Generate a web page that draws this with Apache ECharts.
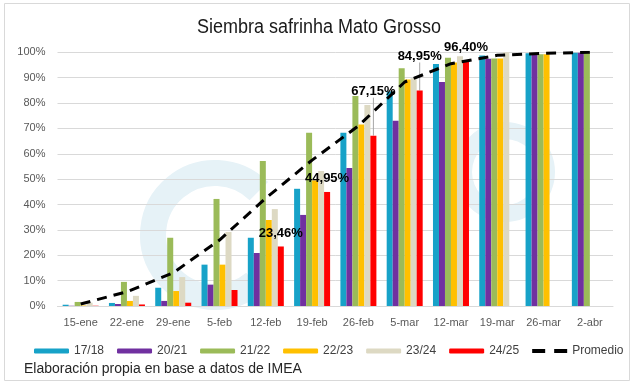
<!DOCTYPE html>
<html>
<head>
<meta charset="utf-8">
<script src="https://cdn.jsdelivr.net/npm/echarts@6/dist/echarts.min.js"></script>
<style>html,body{margin:0;padding:0;background:#fff}#c{width:638px;height:386px}</style>
</head>
<body>
<div id="c"></div>
<script>
const categories = ['15-ene','22-ene','29-ene','5-feb','12-feb','19-feb','26-feb','5-mar','12-mar','19-mar','26-mar','2-abr'];
const s1718 = [0.5, 1.2, 7.2, 16.3, 26.9, 46.2, 68.3, 84.5, 95.4, 98.7, 99.6, 99.8];
const s2021 = [0.1, 0.8, 2.0, 8.4, 20.9, 35.9, 54.4, 73.0, 88.3, 97.5, 99.2, 99.8];
const s2122 = [1.6, 9.5, 26.9, 42.2, 57.2, 68.3, 82.8, 93.7, 97.9, 97.6, 99.2, 99.8];
const s2223 = [0.2, 2.0, 5.9, 16.3, 33.9, 49.5, 71.5, 89.3, 96.0, 97.6, 99.2, null];
const s2324 = [1.3, 4.0, 11.4, 29.2, 38.2, 53.2, 79.2, 89.8, 98.4, 100, null, null];
const s2425 = [0.1, 0.6, 1.3, 6.3, 23.46, 44.95, 67.15, 84.95, 96.40, null, null, null];
const promedio = [0.8, 5.6, 13.1, 26.0, 42.5, 57.5, 71.0, 88.3, 95.5, 98.8, 99.6, 100];
const labeledIdx = [4, 5, 6, 7, 8];
const yTicks = [0,10,20,30,40,50,60,70,80,90,100];

const labelDy = {4: -2, 5: -2, 6: -33, 7: -23, 8: -3};
const leaderIdx = [6, 7];

const chart = echarts.init(document.getElementById('c'));
const font = 'Liberation Sans, Arial, sans-serif';
const barW = 6;
function barSeries(name, data, color) {
  return {name, type: 'bar', data, barWidth: barW, barGap: '0%', itemStyle: {color}, z: 3};
}
const redData = s2425.map((v, i) => labeledIdx.includes(i)
  ? {value: v, label: {show: true}, labelLine: {show: leaderIdx.includes(i)}}
  : v);

chart.setOption({
  animation: false,
  textStyle: {fontFamily: font},
  grid: {left: 57.5, right: 25, top: 52.3, bottom: 80, containLabel: false},
  legend: {
    left: 29, top: 340, itemWidth: 35, itemHeight: 5, itemGap: 13,
    textStyle: {fontSize: 12, color: '#404040', fontFamily: font},
    data: ['17/18','20/21','21/22','22/23','23/24','24/25',
      {name: 'Promedio', icon: 'path://M0,0h13v4h-13zM22,0h13v4h-13z'}]
  },
  xAxis: {
    type: 'category', data: categories,
    axisLine: {lineStyle: {color: '#d9d9d9'}},
    axisTick: {show: false},
    axisLabel: {color: '#595959', fontSize: 11, margin: 11, fontFamily: font}
  },
  yAxis: {
    type: 'value', min: 0, max: 100, interval: 10,
    axisLabel: {formatter: v => yTicks.includes(v) ? v + '%' : '', color: '#595959', fontSize: 11, margin: 12, fontFamily: font},
    splitLine: {lineStyle: {color: '#d9d9d9'}},
    axisLine: {show: false}, axisTick: {show: false}
  },
  graphic: [
    {type: 'rect', shape: {x: 4.5, y: 3.5, width: 625, height: 377}, style: {fill: 'none', stroke: '#d9d9d9', lineWidth: 1}, z: -10},
    {type: 'ring', shape: {cx: 505, cy: 172, r: 50, r0: 33}, style: {fill: '#e6f2f7'}, z: -5},
    {type: 'arc', shape: {cx: 215, cy: 235, r: 62, startAngle: Math.PI * 0.28, endAngle: Math.PI * 1.75}, style: {stroke: '#e6f2f7', lineWidth: 26, fill: 'none'}, z: -5},
    {type: 'text', x: 319, y: 27, scaleX: 0.9, style: {text: 'Siembra safrinha Mato Grosso', x: 0, y: 0, align: 'center', verticalAlign: 'middle', fontSize: 20, fill: '#1a1a1a', fontFamily: font}},
    {type: 'text', left: 24, top: 362, style: {text: 'Elaboración propia en base a datos de IMEA', fontSize: 14, fill: '#262626', fontFamily: font}}
  ],
  series: [
    barSeries('17/18', s1718, '#17a2c8'),
    barSeries('20/21', s2021, '#7030a0'),
    barSeries('21/22', s2122, '#9bbb59'),
    barSeries('22/23', s2223, '#ffc000'),
    barSeries('23/24', s2324, '#ddd9c3'),
    {
      name: '24/25', type: 'bar', data: redData, barWidth: barW, barGap: '0%', itemStyle: {color: '#ff0000'}, z: 4,
      label: {show: false, position: 'top', distance: 5, fontSize: 13, fontWeight: 'bold', color: '#000', fontFamily: font,
        formatter: p => p.value.toFixed(2).replace('.', ',') + '%'},
      labelLine: {show: false, lineStyle: {color: '#a6a6a6', width: 1}},
      labelLayout: p => ({dy: labelDy[p.dataIndex] || 0})
    },
    {
      name: 'Promedio', type: 'line', data: promedio, symbol: 'none', z: 5,
      lineStyle: {color: '#000', width: 3, type: [10, 7]},
      itemStyle: {color: '#000'}
    }
  ]
});
</script>
</body>
</html>
